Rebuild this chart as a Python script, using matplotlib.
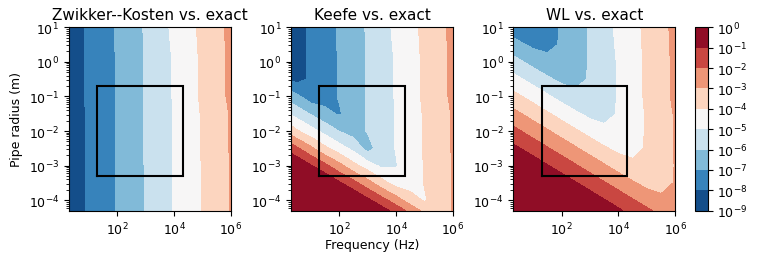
import numpy as np
import matplotlib
matplotlib.use('Agg')
import matplotlib.pyplot as plt
from matplotlib import ticker
from matplotlib.colors import ListedColormap, BoundaryNorm
from matplotlib.cm import ScalarMappable

# grid nodes: log10 of frequency (Hz) and log10 of pipe radius (m)
freq_exp = [0.3, 0.5, 1.0, 1.5, 2.0, 2.5, 3.0, 3.5, 4.0, 4.5, 5.0, 5.5, 6.0]
radius_exp = [-4.3, -4.0, -3.5, -3.0, -2.5, -2.0, -1.5, -1.0, -0.5, 0.0, 0.5, 1.0]

# log10 of the relative error (rows follow radius_exp)
zk_err = [
    [-8.55, -8.36, -7.89, -7.42, -6.94, -6.44, -5.94, -5.45, -4.95, -4.46, -3.96, -3.46, -2.96],
    [-8.55, -8.36, -7.89, -7.42, -6.94, -6.44, -5.94, -5.45, -4.95, -4.46, -3.96, -3.46, -2.96],
    [-8.55, -8.36, -7.89, -7.42, -6.94, -6.44, -5.94, -5.45, -4.95, -4.46, -3.96, -3.46, -2.96],
    [-8.55, -8.36, -7.89, -7.42, -6.94, -6.44, -5.94, -5.45, -4.95, -4.46, -3.96, -3.46, -2.96],
    [-8.53, -8.35, -7.88, -7.41, -6.94, -6.43, -5.93, -5.44, -4.95, -4.43, -3.91, -3.42, -2.92],
    [-8.53, -8.35, -7.88, -7.41, -6.94, -6.43, -5.93, -5.44, -4.95, -4.43, -3.91, -3.42, -2.92],
    [-8.53, -8.35, -7.88, -7.41, -6.94, -6.43, -5.93, -5.44, -4.95, -4.43, -3.91, -3.42, -2.92],
    [-8.51, -8.33, -7.86, -7.40, -6.93, -6.42, -5.92, -5.43, -4.92, -4.38, -3.85, -3.33, -2.82],
    [-8.51, -8.33, -7.86, -7.40, -6.93, -6.42, -5.92, -5.43, -4.92, -4.38, -3.85, -3.33, -2.82],
    [-8.51, -8.33, -7.86, -7.40, -6.93, -6.42, -5.92, -5.43, -4.92, -4.38, -3.85, -3.33, -2.82],
    [-8.50, -8.32, -7.85, -7.39, -6.92, -6.41, -5.91, -5.38, -4.86, -4.33, -3.81, -3.30, -2.79],
    [-8.50, -8.32, -7.85, -7.39, -6.92, -6.41, -5.90, -5.34, -4.80, -4.29, -3.79, -3.28, -2.77],
]

keefe_err = [
    [1.00, 1.00, 1.00, 1.00, 1.00, 1.00, 0.26, -0.57, -1.40, -2.27, -3.28, -3.46, -2.96],
    [1.00, 1.00, 1.00, 1.00, 0.88, 0.05, -0.78, -1.61, -2.52, -3.53, -4.10, -3.46, -2.96],
    [1.00, 1.00, 0.81, -0.02, -0.85, -1.68, -2.61, -3.61, -4.44, -4.46, -3.96, -3.46, -2.96],
    [0.24, -0.09, -0.92, -1.74, -2.69, -3.69, -4.50, -5.22, -5.05, -4.46, -3.96, -3.46, -2.96],
    [-1.48, -1.81, -2.78, -3.78, -4.56, -5.27, -6.40, -5.44, -4.95, -4.43, -3.91, -3.42, -2.92],
    [-3.46, -3.86, -4.62, -5.33, -6.02, -6.43, -5.93, -5.44, -4.95, -4.43, -3.91, -3.42, -2.92],
    [-5.11, -5.39, -6.07, -6.72, -7.10, -6.43, -5.93, -5.44, -4.95, -4.43, -3.91, -3.42, -2.92],
    [-6.51, -6.77, -7.56, -7.40, -6.93, -6.42, -5.92, -5.43, -4.92, -4.38, -3.85, -3.33, -2.82],
    [-8.13, -8.33, -7.86, -7.40, -6.93, -6.42, -5.92, -5.43, -4.92, -4.38, -3.85, -3.33, -2.82],
    [-8.51, -8.33, -7.86, -7.40, -6.93, -6.42, -5.92, -5.43, -4.92, -4.38, -3.85, -3.33, -2.82],
    [-8.50, -8.32, -7.85, -7.39, -6.92, -6.41, -5.91, -5.38, -4.86, -4.33, -3.81, -3.30, -2.79],
    [-8.50, -8.32, -7.85, -7.39, -6.92, -6.41, -5.90, -5.34, -4.80, -4.29, -3.79, -3.28, -2.77],
]

wl_err = [
    [2.79, 2.59, 2.10, 1.61, 1.12, 0.63, 0.14, -0.35, -0.84, -1.33, -1.82, -2.28, -2.57],
    [2.20, 2.00, 1.51, 1.02, 0.53, 0.04, -0.45, -0.94, -1.43, -1.92, -2.40, -2.80, -2.82],
    [1.22, 1.02, 0.53, 0.04, -0.45, -0.94, -1.43, -1.92, -2.41, -2.89, -3.29, -3.32, -2.94],
    [0.24, 0.04, -0.45, -0.94, -1.43, -1.92, -2.41, -2.90, -3.38, -3.78, -3.82, -3.44, -2.96],
    [-0.75, -0.94, -1.43, -1.92, -2.41, -2.90, -3.39, -3.87, -4.27, -4.29, -3.90, -3.42, -2.92],
    [-1.73, -1.92, -2.41, -2.90, -3.39, -3.88, -4.36, -4.76, -4.81, -4.41, -3.91, -3.42, -2.92],
    [-2.71, -2.90, -3.39, -3.88, -4.37, -4.85, -5.25, -5.30, -4.93, -4.43, -3.91, -3.42, -2.92],
    [-3.69, -3.88, -4.37, -4.86, -5.34, -5.74, -5.78, -5.41, -4.92, -4.38, -3.85, -3.33, -2.82],
    [-4.67, -4.86, -5.35, -5.83, -6.24, -6.28, -5.90, -5.43, -4.92, -4.38, -3.85, -3.33, -2.82],
    [-5.65, -5.84, -6.32, -6.72, -6.78, -6.40, -5.92, -5.43, -4.92, -4.38, -3.85, -3.33, -2.82],
    [-6.62, -6.81, -7.21, -7.25, -6.90, -6.41, -5.91, -5.38, -4.86, -4.33, -3.81, -3.30, -2.79],
    [-7.56, -7.69, -7.72, -7.37, -6.92, -6.41, -5.90, -5.34, -4.80, -4.29, -3.79, -3.28, -2.77],
]

titles = ['Zwikker--Kosten vs. exact', 'Keefe vs. exact', 'WL vs. exact']
err_levels = list(range(-9, 1))

# black box: 20 Hz - 20 kHz, 0.5 mm - 20 cm
box_freq = [20, 2e4]
box_radius = [5e-4, 0.2]

# one colour per decade band, plus the same end colours for out-of-range values
rdbu = plt.get_cmap('RdBu_r')
nband = len(err_levels) - 1
band_colors = [rdbu((i + 0.5) / nband) for i in range(nband)]
fill_colors = [band_colors[0]] + band_colors + [band_colors[-1]]

fig = plt.figure(figsize=(7.58, 2.55), dpi=100)
lefts = [0.0910, 0.3839, 0.6772]

for left, err, title in zip(lefts, [zk_err, keefe_err, wl_err], titles):
    ax = fig.add_axes([left, 0.170, 0.2137, 0.719])
    ax.set_xscale('log')
    ax.set_yscale('log')
    ax.set_xlim(10 ** freq_exp[0], 10 ** freq_exp[-1])
    ax.set_ylim(10 ** radius_exp[0], 10 ** radius_exp[-1])
    # contour in log10 space so the bands are interpolated per decade
    ax.contourf(freq_exp, radius_exp, np.array(err), levels=err_levels,
                colors=fill_colors, extend='both',
                transform=ax.transLimits + ax.transAxes)
    ax.plot([box_freq[0], box_freq[1], box_freq[1], box_freq[0], box_freq[0]],
            [box_radius[0], box_radius[0], box_radius[1], box_radius[1], box_radius[0]],
            color='k', lw=1.5, solid_joinstyle='miter')
    ax.set_xlim(10 ** freq_exp[0], 10 ** freq_exp[-1])
    ax.set_ylim(10 ** radius_exp[0], 10 ** radius_exp[-1])
    ax.set_xticks([1e2, 1e4, 1e6])
    ax.xaxis.set_minor_locator(ticker.NullLocator())
    ax.tick_params(labelsize=9)
    ax.set_title(title, fontsize=11)
    if left == lefts[0]:
        ax.set_ylabel('Pipe radius (m)', fontsize=9)
    if left == lefts[1]:
        ax.set_xlabel('Frequency (Hz)', fontsize=9, labelpad=1)

sm = ScalarMappable(norm=BoundaryNorm(err_levels, nband), cmap=ListedColormap(band_colors))
cax = fig.add_axes([0.9169, 0.170, 0.0168, 0.719])
cb = fig.colorbar(sm, cax=cax, ticks=err_levels,
                  format=ticker.FuncFormatter(lambda v, p: r'$10^{%d}$' % round(v)))
cb.ax.tick_params(labelsize=9)

fig.savefig('out.png', dpi=100)
